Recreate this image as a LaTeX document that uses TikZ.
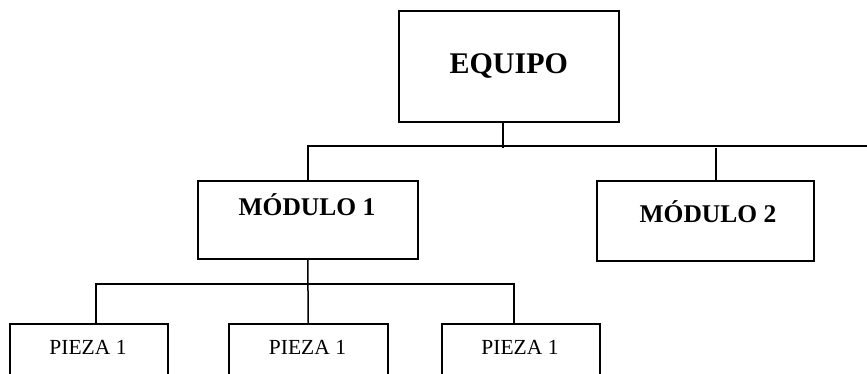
\documentclass[tikz,border=0pt]{standalone}
\usepackage{fontspec}
\setmainfont{Liberation Serif}
\begin{document}
\begin{tikzpicture}[x=1pt,y=-1pt,
  box/.style={draw,line width=1.5pt,inner sep=0pt,anchor=north west},
  conn/.style={line width=1.5pt},
  top/.style={font=\fontsize{30}{30}\selectfont\bfseries},
  big/.style={font=\fontsize{25.5}{25.5}\selectfont\bfseries},
  small/.style={font=\fontsize{21.5}{21.5}\selectfont}]
\useasboundingbox (0,0) rectangle (867,373);
\clip (0,0) rectangle (867,373);
% top level
\node[box,minimum width=220pt,minimum height=111pt,top] (equipo) at (398,10) {EQUIPO};
% second level
\node[box,minimum width=220pt,minimum height=78pt] (mod1) at (197,180) {};
\node[big] (mod1t) at (307,205) {MÓDULO 1};
\node[box,minimum width=217pt,minimum height=80pt] (mod2) at (596,180) {};
\node[big] (mod2t) at (708,212) {MÓDULO 2};
% third level
\node[box,minimum width=158pt,minimum height=60pt] (p1) at (9,323) {};
\node[small] at (88,347) {PIEZA 1};
\node[box,minimum width=159pt,minimum height=60pt] (p2) at (228,323) {};
\node[small] at (307.5,347) {PIEZA 1};
\node[box,minimum width=158pt,minimum height=60pt] (p3) at (441,323) {};
\node[small] at (520,347) {PIEZA 1};
% connectors
\coordinate (busR) at (870,146);
\draw[conn] ([xshift=-6pt]equipo.south) -- ++(0,25) coordinate (busE);
\draw[conn] (mod1.north) |- (busR);
\draw[conn] ([xshift=10.5pt]mod2.north) -- ([xshift=10.5pt]mod2.north |- busE);
\draw[conn] (mod1.south) -- (p2.north);
\draw[conn] ([xshift=7pt]p1.north) |- ([yshift=39pt]p2.north) -| ([xshift=-7pt]p3.north);
\end{tikzpicture}
\end{document}
